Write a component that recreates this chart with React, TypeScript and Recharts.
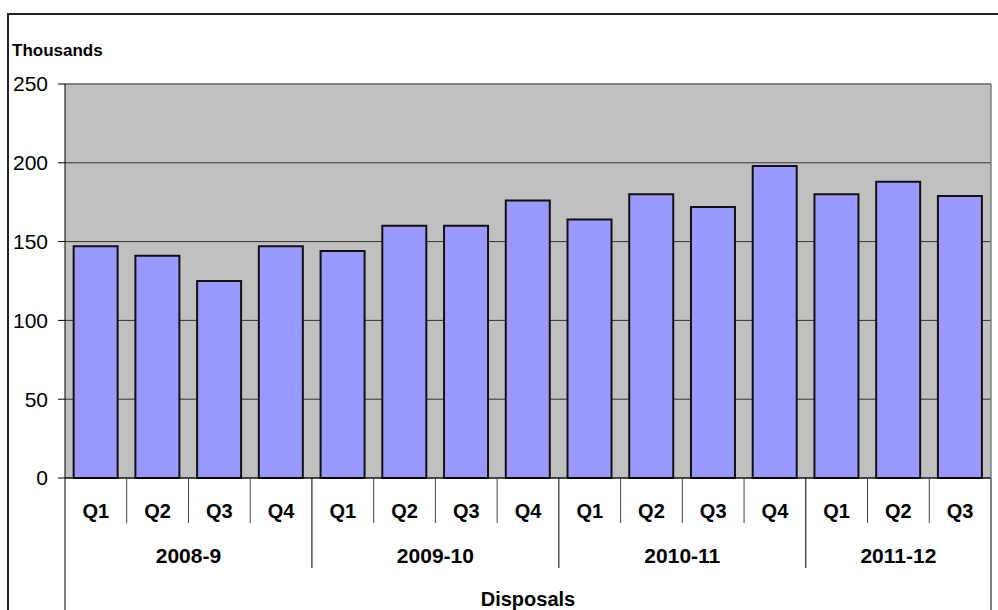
import React from 'react';
import {
    BarChart,
    Bar,
    XAxis,
    YAxis,
    CartesianGrid,
    ReferenceLine
} from 'recharts';

const quarters = ['Q1', 'Q2', 'Q3', 'Q4', 'Q1', 'Q2', 'Q3', 'Q4', 'Q1', 'Q2', 'Q3', 'Q4', 'Q1', 'Q2', 'Q3'];
const years = ['2008-9', '2009-10', '2010-11', '2011-12'];
const disposals = [147, 141, 125, 147, 144, 160, 160, 176, 164, 180, 172, 198, 180, 188, 179];
const yTicks = [0, 50, 100, 150, 200, 250];

const FONT = '"Liberation Sans", Arial, sans-serif';
const CHART_W = 998;
const CHART_H = 610;
const PLOT_TOP = 84;
const PLOT_LEFT = 65;
const PLOT_RIGHT = 991;
const AXIS_Y = 478;
const BAND = (PLOT_RIGHT - PLOT_LEFT) / quarters.length;

// build rows: each quarter knows its year
const data = quarters.map((q, i) => ({
    key: `${i}`,
    q,
    year: years[Math.floor(i / 4)],
    value: disposals[i]
}));

// Two-level category axis: quarter labels, year groups, divider lines
const QuarterTick = (props: any) => {
    const { x, index } = props;
    const row = data[index];
    if (!row) return null;
    const left = x - BAND / 2;
    const isYearStart = index % 4 === 0;
    const divLen = index === 0 ? CHART_H - AXIS_Y : isYearStart ? 90 : 45;
    const groupSize = Math.min(4, quarters.length - index);
    const last = index === quarters.length - 1;

    return (
        <g>
            <line x1={left} x2={left} y1={AXIS_Y} y2={AXIS_Y + divLen} stroke={isYearStart ? '#000' : '#444'} strokeWidth={1} />
            <text x={x} y={AXIS_Y + 40} textAnchor="middle" style={{ fontFamily: FONT, fontSize: 20, fontWeight: 'bold' }} fill="#000">
                {row.q}
            </text>
            {isYearStart && (
                <text x={left + (groupSize * BAND) / 2} y={AXIS_Y + 85} textAnchor="middle" style={{ fontFamily: FONT, fontSize: 21, fontWeight: 'bold' }} fill="#000">
                    {row.year}
                </text>
            )}
            {last && (
                <>
                    <line x1={x + BAND / 2} x2={x + BAND / 2} y1={PLOT_TOP} y2={AXIS_Y} stroke="#808080" strokeWidth={1.5} />
                    <line x1={x + BAND / 2} x2={x + BAND / 2} y1={AXIS_Y} y2={CHART_H} stroke="#000" strokeWidth={1} />
                </>
            )}
            {index === 0 && (
                <text x={(PLOT_LEFT + PLOT_RIGHT) / 2} y={AXIS_Y + 128} textAnchor="middle" style={{ fontFamily: FONT, fontSize: 20, fontWeight: 'bold' }} fill="#000">
                    Disposals
                </text>
            )}
        </g>
    );
};

export default function App() {
    return (
        <div style={{ position: 'absolute', left: 0, top: 0, width: CHART_W, height: CHART_H, overflow: 'hidden', background: '#fff' }}>
            {/* outer frame, runs off the right and bottom edges */}
            <div style={{ position: 'absolute', left: 7, top: 13, width: 1100, height: 800, border: '2px solid #222' }} />
            <div style={{ position: 'absolute', left: 12, top: 42, fontFamily: FONT, fontSize: 17, fontWeight: 'bold', lineHeight: '17px', color: '#000' }}>
                Thousands
            </div>
            <div style={{ position: 'absolute', left: 0, top: 0 }}>
                <BarChart
                    width={CHART_W}
                    height={CHART_H}
                    data={data}
                    margin={{ top: PLOT_TOP, right: CHART_W - PLOT_RIGHT, bottom: 0, left: 0 }}
                    barCategoryGap="14%"
                >
                    <CartesianGrid vertical={false} stroke="#333" fill="#C0C0C0" fillOpacity={1} />
                    <ReferenceLine y={250} stroke="#808080" strokeWidth={1.5} />
                    <XAxis
                        dataKey="key"
                        height={CHART_H - AXIS_Y}
                        axisLine={{ stroke: '#000' }}
                        tickLine={false}
                        interval={0}
                        tick={<QuarterTick />}
                    />
                    <YAxis
                        width={PLOT_LEFT}
                        domain={[0, 250]}
                        ticks={yTicks}
                        interval={0}
                        axisLine={{ stroke: '#000' }}
                        tickLine={{ stroke: '#000' }}
                        tickSize={7}
                        tickMargin={10}
                        tick={{ fill: '#000', fontSize: 21, fontFamily: FONT }}
                    />
                    <Bar dataKey="value" fill="#9999FF" stroke="#111" strokeWidth={2} isAnimationActive={false} />
                </BarChart>
            </div>
        </div>
    );
}
